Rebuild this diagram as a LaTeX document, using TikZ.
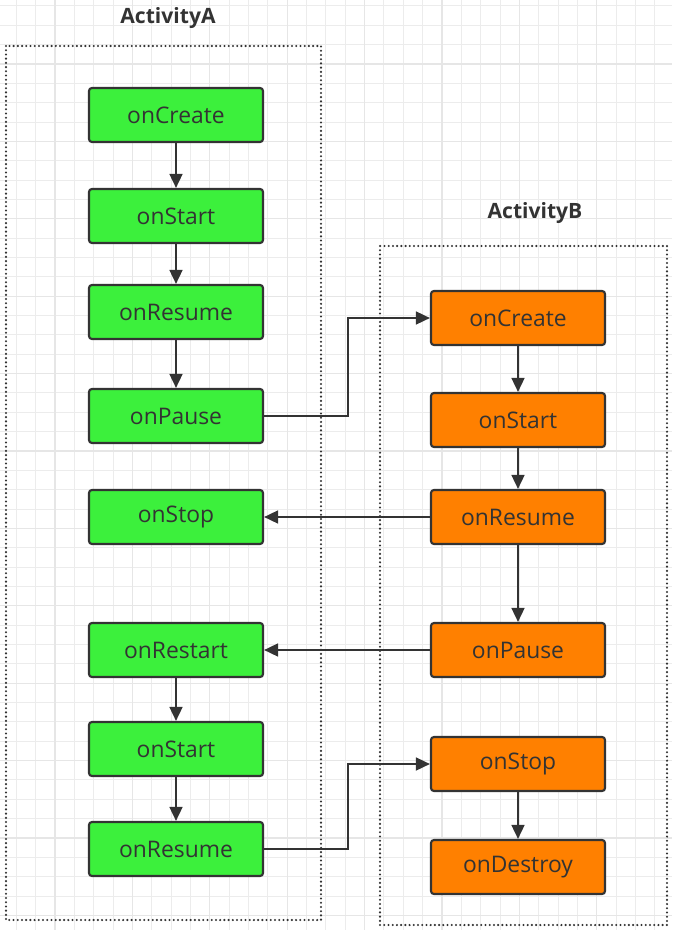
\documentclass[tikz,border=0pt]{standalone}
\usepackage{fontspec}
\setmainfont{Open Sans}
\usepackage{tikz}
\usetikzlibrary{arrows.meta}

\definecolor{boxgreen}{RGB}{60,240,60}
\definecolor{boxorange}{RGB}{255,128,0}
\definecolor{ink}{RGB}{51,51,51}
\definecolor{gridminor}{RGB}{236,236,236}
\definecolor{gridmajor}{RGB}{230,230,230}

\tikzset{
  lifebox/.style={draw=ink, line width=1.8pt, rounded corners=2.5pt,
    minimum width=5.22cm, minimum height=1.62cm, text=ink,
    font=\fontsize{19.5}{22}\selectfont},
  greenbox/.style={lifebox, fill=boxgreen},
  orangebox/.style={lifebox, fill=boxorange},
  frame/.style={draw=ink, line width=2pt, line cap=round, dash pattern=on 0pt off 3.6pt},
  title/.style={text=ink, font=\bfseries\fontsize{18}{22}\selectfont},
  flow/.style={draw=ink, line width=1.8pt, -{Triangle[length=12pt, width=11pt]}}
}

\begin{document}
\begin{tikzpicture}[x=0.03cm, y=-0.03cm]
    \useasboundingbox (0,0) rectangle (672,930);
    \fill[white] (0,0) rectangle (672,930);

    % Draw the grid
    \foreach \i in {0,...,35} {
        \draw[gridminor, line width=0.9pt] ({16.3+19.35*\i},0) -- ({16.3+19.35*\i},930);
    }
    \foreach \j in {0,...,48} {
        \draw[gridminor, line width=0.9pt] (0,{5.95+19.35*\j}) -- (672,{5.95+19.35*\j});
    }
    \foreach \i in {0,...,8} {
        \draw[gridmajor, line width=1pt] ({55+77.4*\i},0) -- ({55+77.4*\i},930);
    }
    \foreach \j in {0,...,12} {
        \draw[gridmajor, line width=1pt] (0,{64-77.4+77.4*\j}) -- (672,{64-77.4+77.4*\j});
    }

    % Draw the two activity frames
    \draw[frame] (6,46) rectangle (321,920);
    \draw[frame] (380,246) rectangle (667,925);
    \node[title] (titleA) at (168,18) {ActivityA};
    \node[title] (titleB) at (535,213) {ActivityB};

    % Activity A callbacks
    \node[greenbox] (aCreate) at (176,115) {onCreate};
    \node[greenbox] (aStart) at (176,216) {onStart};
    \node[greenbox] (aResume) at (176,312) {onResume};
    \node[greenbox] (aPause) at (176,416) {onPause};
    \node[greenbox] (aStop) at (176,517) {onStop};
    \node[greenbox] (aRestart) at (176,650) {onRestart};
    \node[greenbox] (aStartTwo) at (176,749) {onStart};
    \node[greenbox] (aResumeTwo) at (176,849) {onResume};

    % Activity B callbacks
    \node[orangebox] (bCreate) at (518,318) {onCreate};
    \node[orangebox] (bStart) at (518,420) {onStart};
    \node[orangebox] (bResume) at (518,517) {onResume};
    \node[orangebox] (bPause) at (518,650) {onPause};
    \node[orangebox] (bStop) at (518,764) {onStop};
    \node[orangebox] (bDestroy) at (518,867) {onDestroy};

    % Draw the arrows inside each activity
    \draw[flow] (aCreate) -- (aStart);
    \draw[flow] (aStart) -- (aResume);
    \draw[flow] (aResume) -- (aPause);
    \draw[flow] (aRestart) -- (aStartTwo);
    \draw[flow] (aStartTwo) -- (aResumeTwo);
    \draw[flow] (bCreate) -- (bStart);
    \draw[flow] (bStart) -- (bResume);
    \draw[flow] (bResume) -- (bPause);
    \draw[flow] (bStop) -- (bDestroy);

    % Draw the arrows between the activities
    \draw[flow] (aPause.east) -- ++(84,0) |- (bCreate.west);
    \draw[flow] (bResume) -- (aStop);
    \draw[flow] (bPause) -- (aRestart);
    \draw[flow] (aResumeTwo.east) -- ++(84,0) |- (bStop.west);
\end{tikzpicture}
\end{document}
